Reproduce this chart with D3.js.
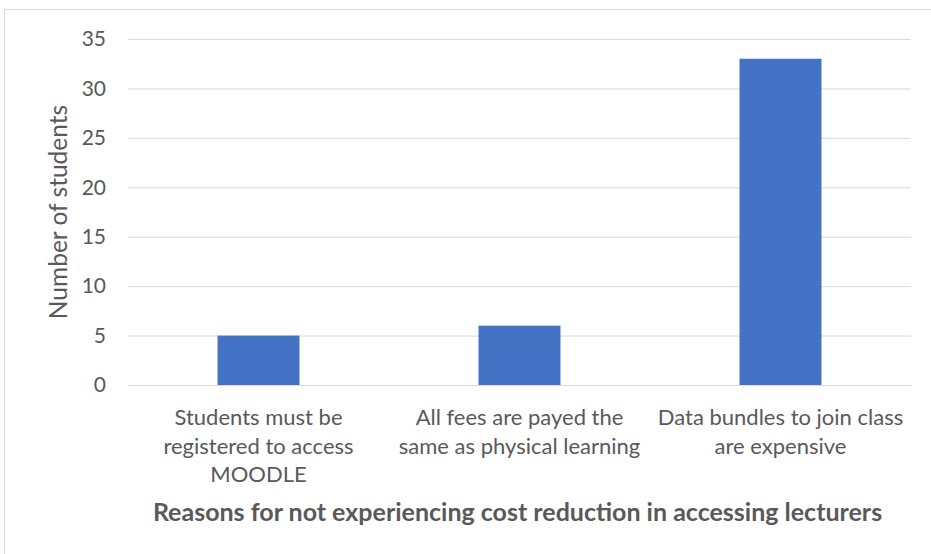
<!DOCTYPE html>
<html><head><meta charset="utf-8">
<script src="https://cdn.jsdelivr.net/npm/d3@7"></script>
<style>
html,body{margin:0;padding:0;background:#fff;}
svg{display:block;}
text{font-family:Lato,"Open Sans",sans-serif;fill:#595959;}
</style></head><body>
<svg id="c" width="931" height="554"></svg>
<script>
const categories = ["Students must be\nregistered to access\nMOODLE", "All fees are payed the\nsame as physical learning", "Data bundles to join class\nare expensive"];
const values = [5, 6, 33];
const yTicks = [0, 5, 10, 15, 20, 25, 30, 35];
const yTitle = "Number of students";
const xTitle = "Reasons for not experiencing cost reduction in accessing lecturers";

const svg = d3.select("#c");
const W = 931, H = 554;
const m = {left: 128, right: 20, top: 39, bottom: 169};
svg.append("rect").attr("x", 4.5).attr("y", 9.5).attr("width", W).attr("height", H)
  .attr("fill", "#fff").attr("stroke", "#d9d9d9");

const x = d3.scaleBand().domain(categories).range([m.left, W - m.right]).paddingInner(0.686).paddingOuter(0.343);
const y = d3.scaleLinear().domain([0, 35]).range([H - m.bottom + 0, m.top]);

const gy = svg.append("g").attr("transform", `translate(${m.left},0)`)
  .call(d3.axisLeft(y).tickValues(yTicks).tickSize(-(W - m.right - m.left)).tickPadding(22).tickFormat(d3.format("d")));
gy.select(".domain").remove();
gy.selectAll(".tick line").attr("stroke", "#d9d9d9").attr("stroke-width", 1);
gy.selectAll(".tick text").style("font-size", "21px").style("fill", "#595959").style("font-family", "Lato");

svg.append("g").selectAll("rect").data(values).join("rect")
  .attr("x", (d, i) => x(categories[i]))
  .attr("width", x.bandwidth())
  .attr("y", d => y(d))
  .attr("height", d => y(0) - y(d))
  .attr("fill", "#4472c4");

const gx = svg.append("g").attr("transform", `translate(0,${y(0)})`)
  .call(d3.axisBottom(x).tickSize(0).tickFormat(""));
gx.select(".domain").attr("stroke", "#d9d9d9").attr("stroke-width", 1);

const full = d3.scaleBand().domain(categories).range([m.left, W - m.right]);
categories.forEach(c => {
  const lines = c.split("\n");
  const t = svg.append("text").attr("text-anchor", "middle").style("font-size", "22px")
    .attr("transform", `translate(${full(c) + full.bandwidth() / 2},${y(0) + 40})`);
  lines.forEach((l, i) => t.append("tspan").attr("x", 0).attr("y", i * 28.5).text(l));
});

svg.append("text").attr("transform", `translate(67,${(y(0) + y(35)) / 2}) rotate(-90)`)
  .attr("text-anchor", "middle").style("font-size", "24.5px").text(yTitle);
svg.append("text").attr("x", (m.left + W - m.right) / 2 - 2).attr("y", 521)
  .attr("text-anchor", "middle").style("font-size", "25px").style("font-weight", "bold").text(xTitle);
</script></body></html>
